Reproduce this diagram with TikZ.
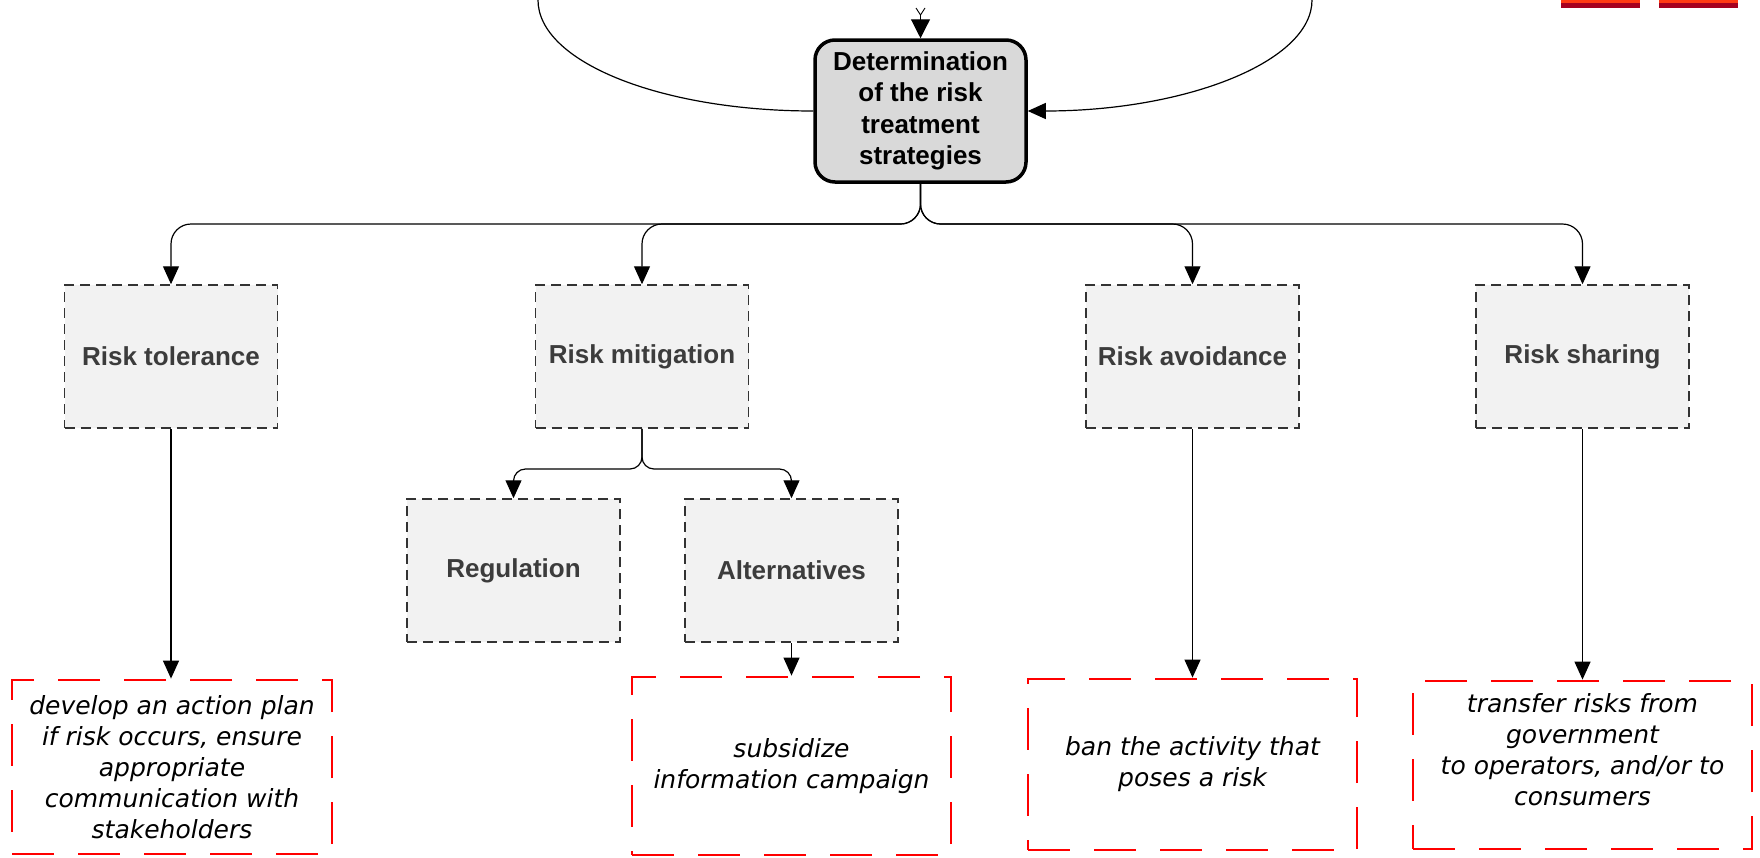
\documentclass[tikz,border=0pt]{standalone}
\usepackage{fontspec}
\setmainfont{Liberation Sans}
\newfontfamily\notefont{DejaVu Sans}
\usetikzlibrary{arrows.meta}
\definecolor{boxfill}{HTML}{F2F2F2}
\definecolor{mainfill}{HTML}{D9D9D9}
\definecolor{labelgray}{HTML}{3C3C3C}
\definecolor{barorange}{HTML}{FF3A12}
\definecolor{barred}{HTML}{A6001F}
\begin{document}
\begin{tikzpicture}[x=1pt,y=-1pt,
  mainbox/.style={draw=black, line width=3.5pt, fill=mainfill, rounded corners=20pt,
    minimum width=211pt, minimum height=142pt, align=center, inner sep=0pt,
    font=\bfseries\fontsize{26}{31.5}\selectfont},
  graybox/.style={draw=black!80, dash pattern=on 10pt off 6pt, line width=1.5pt, fill=boxfill,
    minimum width=213pt, minimum height=143pt, text=labelgray, inner sep=0pt,
    font=\bfseries\fontsize{26}{31}\selectfont},
  redbox/.style={draw=red, line width=2.8pt, dash pattern=on 42pt off 24pt, align=center, inner sep=0pt},
  notetext/.style={align=center, font=\notefont\itshape\fontsize{25}{31}\selectfont},
  conn/.style={line width=1.2pt, draw=black},
  arr/.style={conn, -{Triangle[length=18pt,width=16pt]}}
]
\useasboundingbox (0,0) rectangle (1760,857);

% top-right bars
\fill[barred] (1561,0) rectangle (1640,8);
\fill[barorange] (1561,0) rectangle (1640,3);
\fill[barred] (1659,0) rectangle (1738,8);
\fill[barorange] (1659,0) rectangle (1738,3);

% nodes
\node[mainbox] (det) at (920.5,111) {Determination\\of the risk\\treatment\\strategies};
\node[graybox] (tol) at (171,356.5) {Risk tolerance};
\node[graybox] (mit) at (642,356.5) {Risk mitigation};
\node[graybox] (avo) at (1192.5,356.5) {Risk avoidance};
\node[graybox] (sha) at (1582.5,356.5) {Risk sharing};
\node[graybox] (reg) at (513.5,570.5) {Regulation};
\node[graybox] (alt) at (791.5,570.5) {Alternatives};

\node[redbox, notetext, minimum width=320pt, minimum height=174pt] (plan) at (172,767)
  {develop an action plan\\if risk occurs, ensure\\appropriate\\communication with\\stakeholders};
\node[redbox, notetext, minimum width=319pt, minimum height=178pt] (subs) at (791.5,766)
  {subsidize\\information campaign};
\node[redbox, notetext, minimum width=329pt, minimum height=171pt] (ban) at (1192.5,764.5)
  {ban the activity that\\poses a risk};
\node[redbox, minimum width=339pt, minimum height=168pt] (trans) at (1582.5,765) {};
\node[notetext] (transtext) at (1582.5,750)
  {transfer risks from\\government\\to operators, and/or to\\consumers};

% incoming connectors at the top
\coordinate (ya) at (916,8);
\coordinate (yb) at (925,8);
\coordinate (yj) at (920.5,15);
\draw[conn, line width=0.9pt] (ya) -- (yj) -- (yb);
\draw[arr, -{Triangle[length=19pt,width=19pt]}] (yj) -- (det.north);
\coordinate (lstart) at (538,0);
\coordinate (rstart) at (1312,0);
\draw[conn] (lstart) .. controls (538,62) and (661,111) .. (det.west);
\draw[arr] (rstart) .. controls (1312,62) and (1185,111) .. (det.east);

% branch to the four strategies
\coordinate (split) at (920.5,224);
\foreach \t in {tol,mit,avo,sha}{
  \draw[arr, rounded corners=20pt] (det.south) -- (split) -- (\t.north |- split) -- (\t.north);
}

% branch of risk mitigation
\coordinate (msplit) at (642,469);
\foreach \t in {reg,alt}{
  \draw[arr, rounded corners=12pt] (mit.south) -- (msplit) -- (\t.north |- msplit) -- (\t.north);
}

% straight arrows to the notes
\draw[arr] (tol.south) -- (tol.south |- plan.north);
\draw[arr] (alt.south) -- (alt.south |- subs.north);
\draw[arr] (avo.south) -- (avo.south |- ban.north);
\draw[arr] (sha.south) -- (sha.south |- trans.north);
\end{tikzpicture}
\end{document}
